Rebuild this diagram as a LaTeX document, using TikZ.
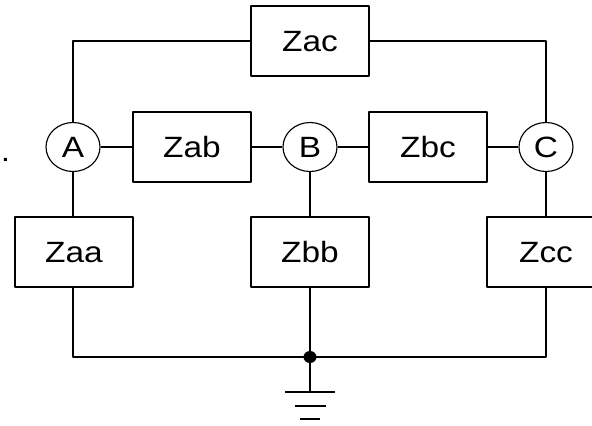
\documentclass[tikz,border=0pt]{standalone}
\usepackage{fontspec}
\setmainfont{Liberation Sans}
\newfontfamily\zfont[FakeStretch=1.14]{Liberation Sans}
\usetikzlibrary{shapes.geometric}
\tikzset{
	zbox/.style={draw, minimum width=88.5pt, minimum height=52.5pt, inner sep=0pt, text height=16pt, text depth=0pt, font=\zfont\fontsize{22}{24}\selectfont},
	bus/.style={draw, ellipse, minimum width=40.5pt, minimum height=36.75pt, inner sep=0pt, font=\zfont\fontsize{22}{24}\selectfont}
}
\begin{document}
\begin{tikzpicture}[x=.75pt,y=-.75pt, line width=.85pt, line join=round]
	\useasboundingbox (0,0) rectangle (592,425);
	\clip (0,0) rectangle (592,425);
	\node[bus] (A) at (73,147) {A};
	\node[bus] (B) at (310,147) {B};
	\node[bus] (C) at (546,147) {C};
	\node[zbox] (Zac) at (310,41) {Zac};
	\node[zbox] (Zab) at (192,147) {Zab};
	\node[zbox] (Zbc) at (428,147) {Zbc};
	\node[zbox] (Zaa) at (74,252) {Zaa};
	\node[zbox] (Zbb) at (310,252) {Zbb};
	\node[zbox] (Zcc) at (546,252) {Zcc};
	\node[inner sep=0pt, font=\zfont\fontsize{22}{24}\selectfont] (dot) at (5.5,160) {.};
	\coordinate (G0) at (310,357);
	\coordinate (G1) at (310,392);
	\draw (Zac.west) -| (A.north) (Zac.east) -| (C.north);
	\draw (A) -- (Zab) (Zab) -- (B) (B) -- (Zbc) (Zbc) -- (C);
	\draw (A.south) -- (A.south |- Zaa.north) (B) -- (Zbb) (C) -- (Zcc);
	\draw (A.south |- Zaa.south) |- (G0) -| (Zcc.south);
	\draw (Zbb.south) -- (G1);
	\fill (G0) ellipse (6.5 and 6);
	\draw (285,392) coordinate (G1l) -- (335,392) coordinate (G1r);
	\draw (294.5,406) coordinate (G2l) -- (325.5,406) coordinate (G2r);
	\draw (300,419) coordinate (G3l) -- (320,419) coordinate (G3r);
\end{tikzpicture}
\end{document}
